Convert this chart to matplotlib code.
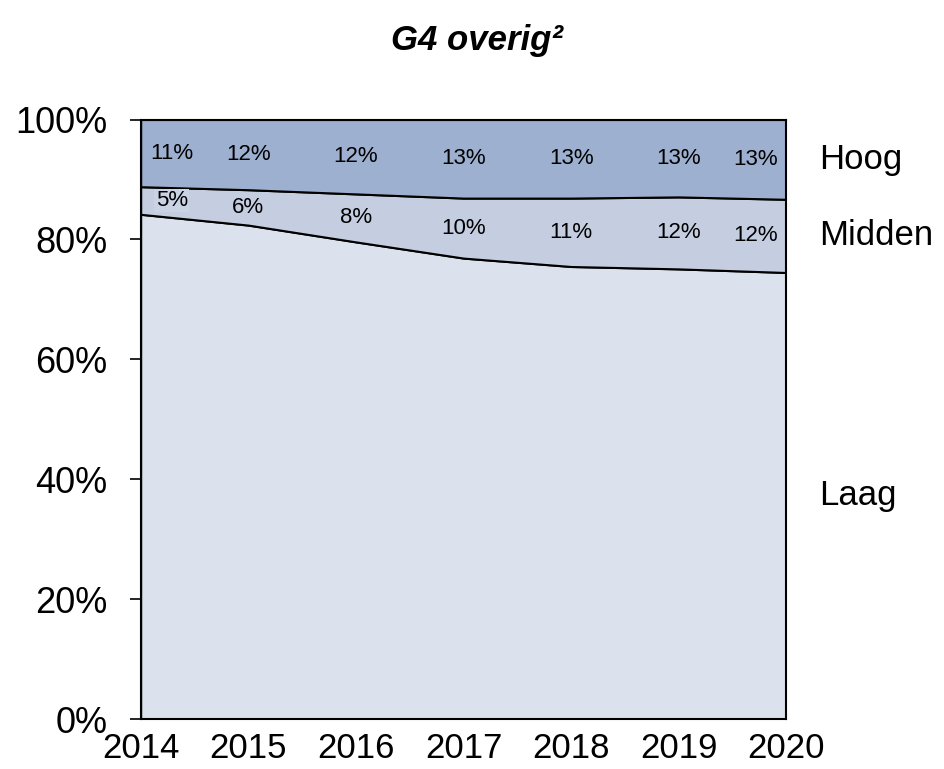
import matplotlib
matplotlib.use('Agg')
import matplotlib.pyplot as plt

plt.rcParams['font.family'] = ['Liberation Sans', 'DejaVu Sans']

years = [2014, 2015, 2016, 2017, 2018, 2019, 2020]
laag = [84.2, 82.4, 79.6, 76.9, 75.5, 75.1, 74.5]
midden = [4.6, 5.9, 8.0, 10.0, 11.4, 12.0, 12.2]
hoog = [100 - l - m for l, m in zip(laag, midden)]
midden_lbl = ['5%', '6%', '8%', '10%', '11%', '12%', '12%']
hoog_lbl = ['11%', '12%', '12%', '13%', '13%', '13%', '13%']
series = ['Laag', 'Midden', 'Hoog']
colors = ['#DCE2ED', '#C4CEE0', '#9DB0CF']

fig = plt.figure(figsize=(9.44, 7.69), dpi=100)
ax = fig.add_axes([0.149, 0.0644, 0.684, 0.7802])

ax.stackplot(years, laag, midden, hoog, colors=colors,
             edgecolor='black', linewidth=1.5)

ax.set_xlim(2014, 2020)
ax.set_ylim(0, 100)
ax.set_yticks([0, 20, 40, 60, 80, 100])
ax.set_yticklabels(['0%', '20%', '40%', '60%', '80%', '100%'], fontsize=26)
ax.set_xticks(years)
ax.set_xticklabels([str(y) for y in years], fontsize=25)
ax.tick_params(axis='y', length=8, width=1.2, pad=16)
ax.tick_params(axis='x', length=0, pad=9)
for s in ax.spines.values():
    s.set_linewidth(1.5)

# labels inside the bands, first and last shifted inwards
for i, y in enumerate(years):
    x = y
    if i == 0:
        x = y + 0.29
    elif i == len(years) - 1:
        x = y - 0.29
    ym = laag[i] + midden[i] / 2
    yh = laag[i] + midden[i] + hoog[i] / 2
    if i == 0:
        ax.text(x, ym, midden_lbl[i], ha='center', va='center', fontsize=16,
                bbox=dict(facecolor='#CAD3E4', edgecolor='none', pad=1))
    else:
        ax.text(x, ym, midden_lbl[i], ha='center', va='center', fontsize=16)
    ax.text(x, yh, hoog_lbl[i], ha='center', va='center', fontsize=16)

# series names on the right
ends = [laag[-1] / 2, laag[-1] + midden[-1] / 2, laag[-1] + midden[-1] + hoog[-1] / 2]
for name, yv in zip(series, ends):
    ax.text(1.05, yv, name, transform=ax.get_yaxis_transform(), ha='left',
            va='center', fontsize=25)

fig.text(0.505, 0.947, 'G4 overig²', ha='center', va='center', fontsize=25,
         fontweight='bold', fontstyle='italic')

fig.savefig('out.png', dpi=100)
